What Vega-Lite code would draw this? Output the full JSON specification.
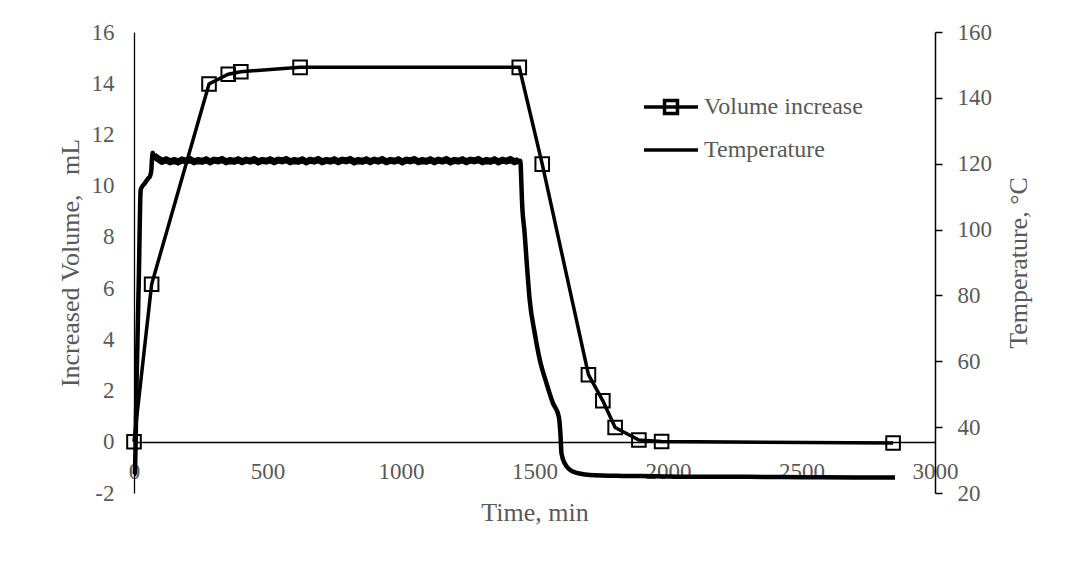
{
  "$schema": "https://vega.github.io/schema/vega-lite/v6.json",
  "autosize": {"type": "none"},
  "width": 801,
  "height": 461,
  "padding": {"left": 134, "top": 32, "right": 147, "bottom": 74},
  "background": "white",
  "config": {
    "view": {"stroke": null},
    "font": "Liberation Serif",
    "axis": {"labelFont": "Liberation Serif", "titleFont": "Liberation Serif", "labelFontSize": 23, "titleFontSize": 26, "labelColor": "#595959", "titleColor": "#595959", "titleFontWeight": "normal", "grid": false, "domainColor": "black", "tickColor": "black"},
    "legend": {"labelFont": "Liberation Serif", "labelFontSize": 24, "labelColor": "#595959"}
  },
  "datasets": {
    "temperature": [
      {"s":"Temperature","t":0,"temp":25.5},{"s":"Temperature","t":3,"temp":26},{"s":"Temperature","t":10,"temp":55},{"s":"Temperature","t":18,"temp":85},{"s":"Temperature","t":25,"temp":112},{"s":"Temperature","t":30,"temp":113},{"s":"Temperature","t":38,"temp":113.8},{"s":"Temperature","t":45,"temp":114.6},{"s":"Temperature","t":52,"temp":115.4},{"s":"Temperature","t":60,"temp":116.2},{"s":"Temperature","t":65,"temp":118},{"s":"Temperature","t":67,"temp":121},{"s":"Temperature","t":70,"temp":123.3},
      {"s":"Temperature","t":75,"temp":122.4},{"s":"Temperature","t":90,"temp":121.5},{"s":"Temperature","t":105,"temp":120.7},{"s":"Temperature","t":120,"temp":121.2},{"s":"Temperature","t":135,"temp":120.6},{"s":"Temperature","t":150,"temp":121.0},{"s":"Temperature","t":165,"temp":120.55},{"s":"Temperature","t":180,"temp":121.15},{"s":"Temperature","t":195,"temp":120.8},{"s":"Temperature","t":210,"temp":121.25},{"s":"Temperature","t":225,"temp":120.6},{"s":"Temperature","t":240,"temp":121.0},{"s":"Temperature","t":255,"temp":120.7},{"s":"Temperature","t":270,"temp":121.2},{"s":"Temperature","t":285,"temp":120.55},{"s":"Temperature","t":300,"temp":121.1},{"s":"Temperature","t":315,"temp":120.85},{"s":"Temperature","t":330,"temp":121.25},{"s":"Temperature","t":345,"temp":120.6},{"s":"Temperature","t":360,"temp":121.0},{"s":"Temperature","t":375,"temp":120.7},{"s":"Temperature","t":390,"temp":121.2},{"s":"Temperature","t":405,"temp":120.6},{"s":"Temperature","t":420,"temp":121.1},{"s":"Temperature","t":435,"temp":120.8},{"s":"Temperature","t":450,"temp":121.25},{"s":"Temperature","t":465,"temp":120.55},{"s":"Temperature","t":480,"temp":121.0},{"s":"Temperature","t":495,"temp":120.75},{"s":"Temperature","t":510,"temp":121.2},{"s":"Temperature","t":525,"temp":120.6},{"s":"Temperature","t":540,"temp":121.1},{"s":"Temperature","t":555,"temp":120.85},{"s":"Temperature","t":570,"temp":121.25},{"s":"Temperature","t":585,"temp":120.6},{"s":"Temperature","t":600,"temp":121.0},{"s":"Temperature","t":615,"temp":120.7},{"s":"Temperature","t":630,"temp":121.2},{"s":"Temperature","t":645,"temp":120.55},{"s":"Temperature","t":660,"temp":121.1},{"s":"Temperature","t":675,"temp":120.8},{"s":"Temperature","t":690,"temp":121.25},{"s":"Temperature","t":705,"temp":120.6},{"s":"Temperature","t":720,"temp":121.0},{"s":"Temperature","t":735,"temp":120.75},{"s":"Temperature","t":750,"temp":121.2},{"s":"Temperature","t":765,"temp":120.6},{"s":"Temperature","t":780,"temp":121.1},{"s":"Temperature","t":795,"temp":120.85},{"s":"Temperature","t":810,"temp":121.25},{"s":"Temperature","t":825,"temp":120.55},{"s":"Temperature","t":840,"temp":121.0},{"s":"Temperature","t":855,"temp":120.7},{"s":"Temperature","t":870,"temp":121.2},{"s":"Temperature","t":885,"temp":120.6},{"s":"Temperature","t":900,"temp":121.1},{"s":"Temperature","t":915,"temp":120.8},{"s":"Temperature","t":930,"temp":121.25},{"s":"Temperature","t":945,"temp":120.6},{"s":"Temperature","t":960,"temp":121.0},{"s":"Temperature","t":975,"temp":120.75},{"s":"Temperature","t":990,"temp":121.2},{"s":"Temperature","t":1005,"temp":120.55},{"s":"Temperature","t":1020,"temp":121.1},{"s":"Temperature","t":1035,"temp":120.85},{"s":"Temperature","t":1050,"temp":121.25},{"s":"Temperature","t":1065,"temp":120.6},{"s":"Temperature","t":1080,"temp":121.0},{"s":"Temperature","t":1095,"temp":120.7},{"s":"Temperature","t":1110,"temp":121.2},{"s":"Temperature","t":1125,"temp":120.6},{"s":"Temperature","t":1140,"temp":121.1},{"s":"Temperature","t":1155,"temp":120.8},{"s":"Temperature","t":1170,"temp":121.25},{"s":"Temperature","t":1185,"temp":120.55},{"s":"Temperature","t":1200,"temp":121.0},{"s":"Temperature","t":1215,"temp":120.75},{"s":"Temperature","t":1230,"temp":121.2},{"s":"Temperature","t":1245,"temp":120.6},{"s":"Temperature","t":1260,"temp":121.1},{"s":"Temperature","t":1275,"temp":120.85},{"s":"Temperature","t":1290,"temp":121.25},{"s":"Temperature","t":1305,"temp":120.6},{"s":"Temperature","t":1320,"temp":121.0},{"s":"Temperature","t":1335,"temp":120.7},{"s":"Temperature","t":1350,"temp":121.2},{"s":"Temperature","t":1365,"temp":120.55},{"s":"Temperature","t":1380,"temp":121.1},{"s":"Temperature","t":1395,"temp":120.8},{"s":"Temperature","t":1410,"temp":121.25},{"s":"Temperature","t":1425,"temp":120.6},{"s":"Temperature","t":1440,"temp":121.0},{"s":"Temperature","t":1447,"temp":120.9},
      {"s":"Temperature","t":1450,"temp":116},{"s":"Temperature","t":1453,"temp":109},{"s":"Temperature","t":1463,"temp":98.9},{"s":"Temperature","t":1472,"temp":88.7},{"s":"Temperature","t":1482,"temp":78.6},{"s":"Temperature","t":1501,"temp":68.5},{"s":"Temperature","t":1520,"temp":60.4},{"s":"Temperature","t":1545,"temp":53.3},{"s":"Temperature","t":1569,"temp":47.3},{"s":"Temperature","t":1591,"temp":43.2},{"s":"Temperature","t":1597,"temp":38.1},{"s":"Temperature","t":1601,"temp":32.1},{"s":"Temperature","t":1613,"temp":29},{"s":"Temperature","t":1644,"temp":26.5},{"s":"Temperature","t":1707,"temp":25.5},{"s":"Temperature","t":1830,"temp":25.2},{"s":"Temperature","t":1950,"temp":25.1},{"s":"Temperature","t":2100,"temp":24.9},{"s":"Temperature","t":2300,"temp":24.9},{"s":"Temperature","t":2500,"temp":24.8},{"s":"Temperature","t":2700,"temp":24.7},{"s":"Temperature","t":2850,"temp":24.7}
    ],
    "volume": [
      {"s":"Volume increase","t":0,"vol":0},{"s":"Volume increase","t":66,"vol":6.15},{"s":"Volume increase","t":281,"vol":13.97},{"s":"Volume increase","t":353,"vol":14.35},{"s":"Volume increase","t":400,"vol":14.45},{"s":"Volume increase","t":622,"vol":14.62},{"s":"Volume increase","t":1443,"vol":14.62},{"s":"Volume increase","t":1529,"vol":10.84},{"s":"Volume increase","t":1702,"vol":2.62},{"s":"Volume increase","t":1756,"vol":1.6},{"s":"Volume increase","t":1802,"vol":0.56},{"s":"Volume increase","t":1891,"vol":0.07},{"s":"Volume increase","t":1976,"vol":0.01},{"s":"Volume increase","t":2843,"vol":-0.05}
    ]
  },
  "layer": [
    {
      "data": {"name": "temperature"},
      "encoding": {
        "x": {"field": "t", "type": "quantitative", "scale": {"domain": [0, 3000], "nice": false},
          "axis": {"orient": "bottom", "offset": -51, "values": [0,500,1000,1500,2000,2500,3000], "labelExpr": "'' + datum.value", "ticks": false, "labelPadding": 18, "labelFlush": false, "title": "Time, min", "titlePadding": 16, "domainWidth": 1.3}},
        "y": {"field": "temp", "type": "quantitative", "scale": {"domain": [20, 160], "nice": false, "zero": false},
          "axis": {"orient": "right", "values": [20,40,60,80,100,120,140,160], "labelExpr": "'' + datum.value", "tickSize": 7, "tickWidth": 1.5, "domainWidth": 1.5, "labelPadding": 15, "title": "Temperature, °C", "titleAngle": 270, "titlePadding": 40}}
      },
      "layer": [
        {
          "mark": {"type": "line", "strokeWidth": 4.5, "interpolate": "monotone"},
          "encoding": {
            "stroke": {"field": "s", "type": "nominal", "scale": {"domain": ["Volume increase", "Temperature"], "range": ["black", "black"]},
              "legend": {"title": null, "orient": "none", "legendX": 508, "legendY": 46, "symbolSize": 2916, "symbolStrokeWidth": 3.5, "symbolType": "stroke", "labelOffset": 4, "rowPadding": -10,
                "encode": {"symbols": {"update": {"shape": {"signal": "datum.value === 'Volume increase' ? 'M-1,0H1M-0.24,-0.24H0.24V0.24H-0.24Z' : 'M-1,0H1'"}}}}}}
          }
        },
        {
          "transform": [{"filter": "datum.t >= 72 && datum.t <= 1445"}],
          "mark": {"type": "line", "strokeWidth": 7, "interpolate": "linear", "color": "black"},
          "encoding": {}
        }
      ]
    },
    {
      "data": {"name": "volume"},
      "encoding": {
        "x": {"field": "t", "type": "quantitative"},
        "y": {"field": "vol", "type": "quantitative", "scale": {"domain": [-2, 16], "nice": false, "zero": false},
          "axis": {"orient": "left", "values": [-2,0,2,4,6,8,10,12,14,16], "labelExpr": "'' + datum.value", "ticks": false, "labelPadding": 20, "domainWidth": 1.3, "title": "Increased Volume,\u00a0\u00a0\u00a0mL", "titlePadding": 8}}
      },
      "layer": [
        {
          "mark": {"type": "line", "strokeWidth": 3.5, "interpolate": "linear"},
          "encoding": {"stroke": {"field": "s", "type": "nominal"}}
        },
        {
          "mark": {"type": "point", "shape": "square", "size": 185, "filled": false, "strokeWidth": 2, "color": "black", "opacity": 1},
          "encoding": {}
        }
      ]
    }
  ],
  "resolve": {"scale": {"y": "independent"}}
}
